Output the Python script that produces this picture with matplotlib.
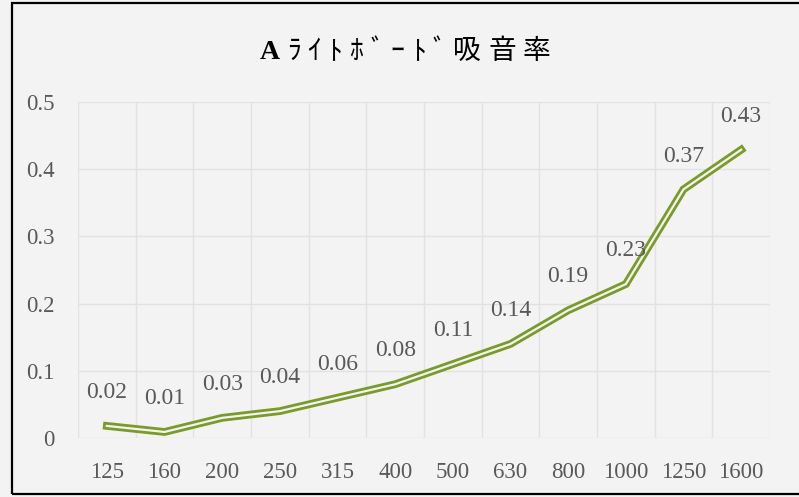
import matplotlib.pyplot as plt
from matplotlib.patches import Rectangle
from matplotlib.ticker import MultipleLocator
from matplotlib.offsetbox import TextArea, HPacker, AnchoredOffsetbox

# data
freqs = ['125', '160', '200', '250', '315', '400', '500', '630', '800', '1000', '1250', '1600']
absorption = [0.018, 0.009, 0.030, 0.040, 0.060, 0.080, 0.110, 0.140, 0.190, 0.229, 0.370, 0.429]
title = 'Aﾗｲﾄﾎﾞｰﾄﾞ吸音率'

bg = '#f3f3f3'
olive = '#7a9a2a'
gray = '#595959'
serif = ['Liberation Serif', 'DejaVu Serif']

fig = plt.figure(figsize=(7.99, 4.97), dpi=100, facecolor=bg)
ax = fig.add_axes([78 / 799, 59 / 497, 692 / 799, 336 / 497], facecolor=bg)

x = list(range(len(freqs)))

# double (compound) line: thick olive under a thin background line
ax.plot(x, absorption, color=olive, lw=5.6, solid_joinstyle='miter', zorder=3)
ax.plot(x, absorption, color=bg, lw=1.6, solid_joinstyle='miter', zorder=4)

for xi, v in zip(x, absorption):
    ax.annotate(f'{v:.2f}', (xi, v), xytext=(0, 24), textcoords='offset points',
                ha='center', va='center', fontsize=17, color=gray, family=serif, zorder=5)

ax.set_xlim(-0.5, len(freqs) - 0.5)
ax.set_ylim(0, 0.5)
ax.set_xticks(x)
ax.set_xticklabels(freqs)
ax.xaxis.set_minor_locator(MultipleLocator(1, offset=0.5))
ax.set_yticks([0, 0.1, 0.2, 0.3, 0.4, 0.5])
ax.set_yticklabels(['0', '0.1', '0.2', '0.3', '0.4', '0.5'])

ax.grid(True, which='minor', axis='x', color='#e2e2e2', lw=1)
ax.grid(True, which='major', axis='y', color='#e2e2e2', lw=1)
ax.set_axisbelow(True)
ax.tick_params(which='both', length=0)
ax.tick_params(axis='x', pad=17)
ax.tick_params(axis='y', pad=17)
for lab in ax.get_xticklabels() + ax.get_yticklabels():
    lab.set_family(serif)
    lab.set_fontsize(16.5)
    lab.set_color(gray)
for s in ax.spines.values():
    s.set_visible(False)

# title with wide letter spacing
parts = []
for i, ch in enumerate(title):
    if i == 0:
        props = dict(fontsize=20, fontweight='bold', family=serif, color='black')
    else:
        props = dict(fontsize=20, family=['Noto Sans CJK JP', 'DejaVu Sans'], color='black')
    parts.append(TextArea(ch, textprops=props))
title_box = HPacker(children=parts, align='baseline', pad=0, sep=5)
fig.add_artist(AnchoredOffsetbox(loc='center', child=title_box, frameon=False, pad=0,
                                 bbox_to_anchor=(0.507, 0.898), bbox_transform=fig.transFigure))

# outer frame (right edge cut off by the image)
fig.add_artist(Rectangle((12 / 799, 3 / 497), 1.0, 491 / 497, transform=fig.transFigure,
                         fill=False, edgecolor='black', lw=1.6, clip_on=False))

fig.savefig('out.png', dpi=100, facecolor=bg)
